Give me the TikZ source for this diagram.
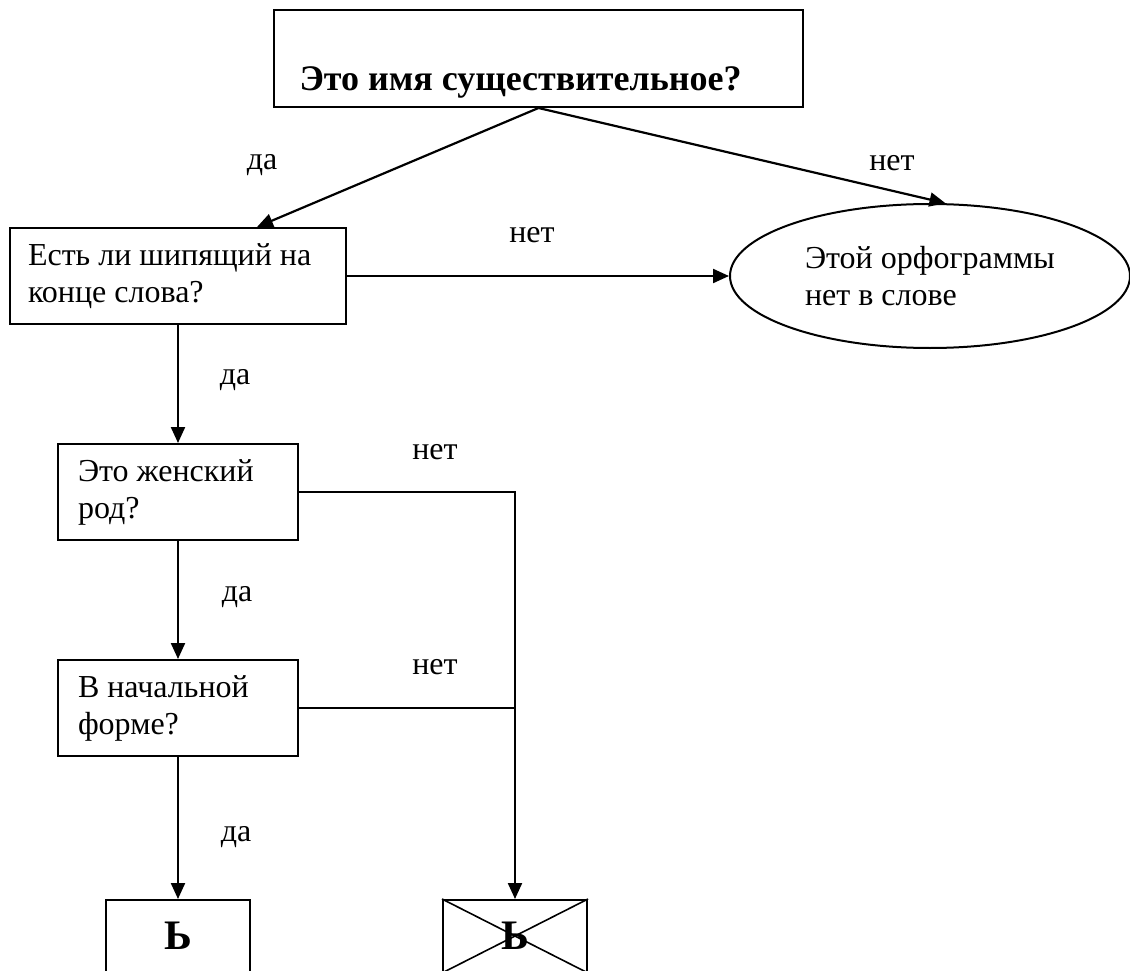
\documentclass[tikz,border=0pt]{standalone}
\usepackage{fontspec}
\setmainfont{Liberation Serif}
\usetikzlibrary{arrows.meta,shapes.geometric,calc}

\begin{document}
\begin{tikzpicture}[x=1pt,y=-1pt,
  font=\fontsize{32}{37}\selectfont,
  box/.style={draw,line width=2pt,rectangle,inner sep=0pt,align=flush left},
  arr/.style={line width=2.2pt,-{Triangle[length=16pt,width=14pt]}},
  ln/.style={line width=2pt},
  big/.style={font=\fontsize{36}{41}\selectfont\bfseries},
  sign/.style={font=\fontsize{42}{46}\selectfont\bfseries}]
\useasboundingbox (0,0) rectangle (1130,971);
\node[box,minimum width=529pt,minimum height=97pt] (noun) at (538.5,58.5) {};
\node[big,anchor=base west] (nountxt) at (296,91) {Это имя существительное?};
\node[box,minimum width=336pt,minimum height=96pt,text width=300pt] (hush) at (178,276) {Есть ли шипящий на\\конце слова?};
\node[draw,ellipse,line width=2pt,inner sep=0pt,minimum width=400pt,minimum height=144pt,text width=250pt,align=flush left] (none) at (930,276) {Этой~орфограммы\\нет в слове};
\node[box,minimum width=240pt,minimum height=96pt,text width=200pt] (fem) at (178,492) {Это женский\\род?};
\node[box,minimum width=240pt,minimum height=96pt,text width=200pt] (init) at (178,708) {В начальной\\форме?};
\node[box,sign,align=center,minimum width=144pt,minimum height=72pt] (soft) at (178,936) {Ь};
\node[box,sign,align=center,minimum width=144pt,minimum height=72pt] (nosoft) at (515,936) {Ь};
\draw[line width=1.6pt] (nosoft.north west) -- (nosoft.south east) (nosoft.north east) -- (nosoft.south west);
\draw[arr] (noun.south) -- ($(hush.north)+(79,0)$);
\draw[arr] (noun.south) -- (none.78);
\draw[arr] (hush.east) -- (none.west);
\draw[arr] (hush.south) -- (fem.north);
\draw[arr] (fem.south) -- (init.north);
\draw[arr] (init.south) -- (soft.north);
\draw[arr] (fem.east) -| (nosoft.north);
\draw[ln] (init.east) -- (init.east -| nosoft.north);
\node (da1) at (262,165) {да};
\node (net1) at (892,163) {нет};
\node (net2) at (532,235) {нет};
\node (da2) at (235,380) {да};
\node (net3) at (435,452) {нет};
\node (da3) at (237,597) {да};
\node (net4) at (435,667) {нет};
\node (da4) at (236,837) {да};
\end{tikzpicture}
\end{document}
